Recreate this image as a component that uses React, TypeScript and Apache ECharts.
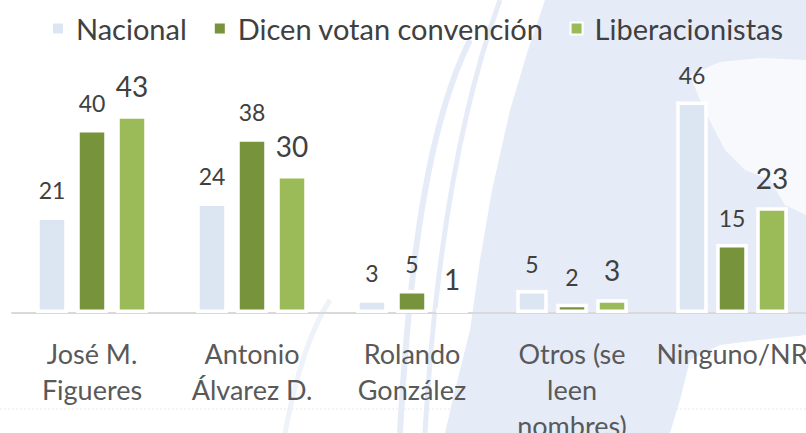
import React, { useEffect, useRef } from "react";
import * as echarts from "echarts";

const categories = [
  "José M.\nFigueres",
  "Antonio\nÁlvarez D.",
  "Rolando\nGonzález",
  "Otros (se\nleen\nnombres)",
  "Ninguno/NR",
];
const seriesNames = ["Nacional", "Dicen votan convención", "Liberacionistas"];
const nacional = [21, 24, 3, 5, 46];
const dicenVotan = [40, 38, 5, 2, 15];
const liberacionistas = [43, 30, 1, 3, 23];

const colors = ["#DCE6F2", "#77933C", "#9BBB59"];
const FONT = "Lato, 'Open Sans', sans-serif";
const GLOBE = "#E5ECF7";
const STRIPE = "#E6ECF7";

export default function App() {
  const ref = useRef<HTMLDivElement>(null);
  useEffect(() => {
    if (!ref.current) return;
    const chart = echarts.init(ref.current, null, { renderer: "svg" });
    const mk = (name: string, data: number[], color: string, fs: number) => ({
      name,
      type: "bar",
      data,
      barWidth: 31.5,
      barGap: "27%",
      z: 5,
      itemStyle: { color, borderColor: "#FFFFFF", borderWidth: 3.5 },
      label: {
        show: true,
        position: "top",
        distance: 15,
        color: "#404040",
        fontSize: fs,
        fontFamily: FONT,
      },
    });
    chart.setOption({
      animation: false,
      backgroundColor: "#FFFFFF",
      textStyle: { fontFamily: FONT },
      graphic: [
        {
          type: "polygon",
          z: -10,
          shape: {
            points: [
              [545, 0], [806, 0], [806, 335], [760, 340], [720, 345], [690, 360],
              [680, 400], [670, 433], [445, 433], [455, 390], [470, 330],
              [480, 260], [492, 190], [510, 110], [528, 50],
            ],
          },
          style: { fill: GLOBE },
        },
        {
          type: "polygon",
          z: -9,
          shape: {
            points: [
              [690, 75], [720, 62], [760, 58], [806, 60], [806, 215], [785, 205],
              [770, 180], [745, 170], [725, 150], [712, 125], [700, 100],
            ],
          },
          style: { fill: "#F7F9FD" },
        },
        {
          type: "bezierCurve",
          z: -9,
          shape: { x1: 400, y1: 433, x2: 470, y2: 40, cpx1: 410, cpy1: 250, cpx2: 430, cpy2: 120 },
          style: { fill: "none", stroke: STRIPE, lineWidth: 6 },
        },
        {
          type: "bezierCurve",
          z: -9,
          shape: { x1: 425, y1: 433, x2: 500, y2: 0, cpx1: 435, cpy1: 260, cpx2: 460, cpy2: 110 },
          style: { fill: "none", stroke: STRIPE, lineWidth: 5 },
        },
        {
          type: "bezierCurve",
          z: -9,
          shape: { x1: 285, y1: 433, x2: 330, y2: 300, cpx1: 295, cpy1: 380, cpx2: 310, cpy2: 330 },
          style: { fill: "none", stroke: "#EEF2F9", lineWidth: 5 },
        },
        {
          type: "line",
          z: -8,
          shape: { x1: 0, y1: 409, x2: 806, y2: 409 },
          style: { stroke: "#E4E9F1", lineWidth: 1, lineDash: [2, 2] },
        },
      ],
      legend: {
        left: 46,
        top: 9,
        itemWidth: 12,
        itemHeight: 12,
        itemGap: 26,
        icon: "rect",
        textStyle: {
          fontSize: 29,
          color: "#404040",
          fontFamily: FONT,
          padding: [0, 0, 0, 7],
        },
        data: seriesNames,
      },
      grid: {
        left: 12,
        right: -6,
        top: 83,
        bottom: 120,
        containLabel: false,
        outerBoundsMode: "none",
      },
      xAxis: {
        type: "category",
        data: categories,
        axisLine: { show: true, lineStyle: { color: "#D9D9D9", width: 2 } },
        axisTick: { show: false },
        axisLabel: {
          interval: 0,
          color: "#595959",
          fontSize: 27,
          lineHeight: 36,
          margin: 22,
          fontFamily: FONT,
        },
      },
      yAxis: {
        type: "value",
        min: 0,
        max: 50,
        show: false,
        splitLine: { show: false },
      },
      series: [
        mk(seriesNames[0], nacional, colors[0], 23),
        mk(seriesNames[1], dicenVotan, colors[1], 23),
        mk(seriesNames[2], liberacionistas, colors[2], 28),
      ],
    });
    return () => chart.dispose();
  }, []);
  return (
    <div
      ref={ref}
      style={{ position: "fixed", left: 0, top: 0, width: 806, height: 433 }}
    />
  );
}
